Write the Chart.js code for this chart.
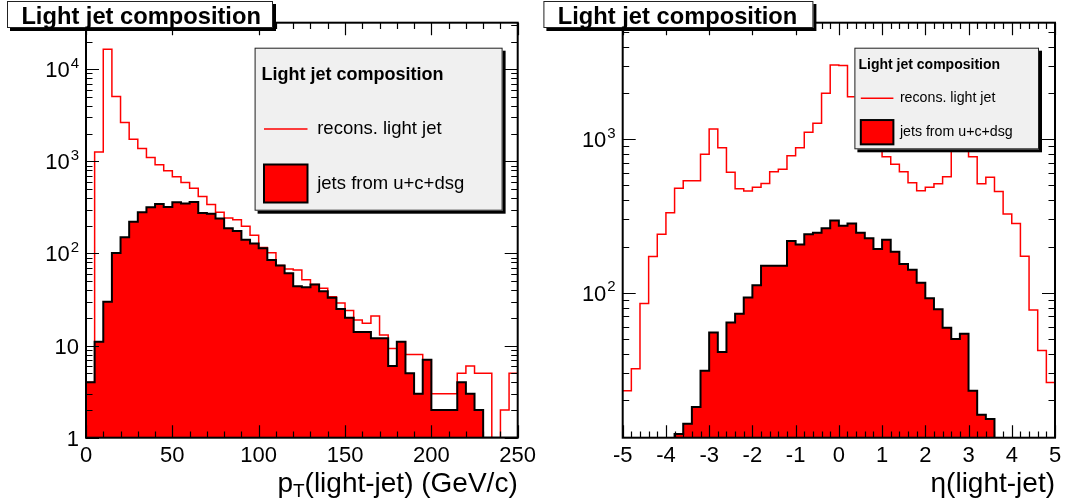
<!DOCTYPE html>
<html>
<head>
<meta charset="utf-8">
<script src="https://cdn.jsdelivr.net/npm/chart.js@4.4.0/dist/chart.umd.min.js"></script>
<style>
  html, body { margin: 0; padding: 0; background: #fff; }
  #wrap { position: relative; width: 1066px; height: 501px; overflow: hidden; }
  canvas { position: absolute; top: 0; }
  #ptChart { left: 0; }
  #etaChart { left: 533px; }
</style>
</head>
<body>
<div id="wrap">
  <canvas id="ptChart" width="545" height="501"></canvas>
  <canvas id="etaChart" width="533" height="501"></canvas>
</div>
<script>
// left pad: pT of light jets, 5 GeV bins (low edges)
const ptBins = [0, 5, 10, 15, 20, 25, 30, 35, 40, 45, 50, 55, 60, 65, 70, 75, 80, 85, 90, 95,
  100, 105, 110, 115, 120, 125, 130, 135, 140, 145, 150, 155, 160, 165, 170, 175, 180, 185, 190, 195,
  200, 205, 210, 215, 220, 225, 230, 235, 240, 245];
const ptRecons = [4, 1260, 16500, 5060, 2640, 1740, 1380, 1100, 918, 790,
  681, 591, 510, 415, 340, 280, 242, 232, 198, 158,
  116, 102, 74, 68, 66, 52, 46, 42, 34, 29,
  24, 19, 17.5, 21, 13, 9.3, 11, 8, 8, 7,
  3, 3, 3, 5, 6, 5, 5, 0, 2, 5];
const ptLight = [4, 11, 30, 101, 150, 221, 280, 317, 345, 320,
  359, 348, 362, 275, 270, 240, 188, 175, 141, 128,
  114, 85, 74, 61, 44, 43, 46, 39, 33, 25,
  20, 14, 14, 12, 12, 6, 11, 5, 3, 7,
  2, 2, 2, 4, 3, 2, 0, 0, 0, 0];
const ptXTicks = [0, 50, 100, 150, 200, 250];
const ptYTickValues = [1, 10, 100, 1000, 10000];
const ptYTickLabels = ['1', '10', '10^2', '10^3', '10^4'];

// right pad: eta of light jets, 0.2 bins (low edges)
const etaBins = [-5, -4.8, -4.6, -4.4, -4.2, -4, -3.8, -3.6, -3.4, -3.2, -3, -2.8, -2.6, -2.4, -2.2,
  -2, -1.8, -1.6, -1.4, -1.2, -1, -0.8, -0.6, -0.4, -0.2, 0, 0.2, 0.4, 0.6, 0.8,
  1, 1.2, 1.4, 1.6, 1.8, 2, 2.2, 2.4, 2.6, 2.8, 3, 3.2, 3.4, 3.6, 3.8, 4, 4.2, 4.4, 4.6, 4.8];
const etaRecons = [23, 32, 85, 172, 240, 332, 479, 537, 537, 798,
  1167, 882, 609, 475, 460, 486, 514, 615, 637, 782,
  882, 1111, 1271, 1995, 3050, 3020, 1890, 1600, 1250, 1000,
  770, 687, 615, 521, 462, 486, 512, 570, 950, 1150,
  770, 512, 565, 456, 326, 283, 173, 77, 42, 26];
const etaLight = [2, 3, 4, 6, 8, 10, 12, 14, 18, 31,
  55, 41, 64, 73, 93, 112, 150, 150, 150, 217,
  206, 240, 246, 263, 295, 273, 283, 246, 226, 193,
  221, 185, 154, 141, 116, 92, 78, 59, 50, 54,
  23, 16, 15, 9, 6, 4, 3, 2, 1, 1];
const etaXTicks = [-5, -4, -3, -2, -1, 0, 1, 2, 3, 4, 5];
const etaYTickValues = [100, 1000];
const etaYTickLabels = ['10^2', '10^3'];

const FONT = '"Liberation Sans", Arial, Helvetica, sans-serif';
const RED = '#ff0000';

// step histogram points: one per bin low edge plus the closing edge
function histPoints(lows, values, hi, floor) {
  const pts = lows.map((x, i) => ({ x: x, y: values[i] > 0 ? values[i] : floor }));
  pts.push({ x: hi, y: pts[pts.length - 1].y });
  return pts;
}

function pave(ctx, x, y, w, h, fill, shadow) {
  ctx.fillStyle = '#000';
  ctx.fillRect(x + shadow, y + shadow, w, h);
  ctx.fillStyle = fill;
  ctx.fillRect(x, y, w, h);
  ctx.strokeStyle = '#222';
  ctx.lineWidth = 1;
  ctx.strokeRect(x + 0.5, y + 0.5, w - 1, h - 1);
}

function drawPowLabel(ctx, label, right, y) {
  const parts = label.split('^');
  ctx.textAlign = 'left';
  ctx.textBaseline = 'alphabetic';
  ctx.font = '22px ' + FONT;
  const baseW = ctx.measureText(parts[0]).width;
  let supW = 0;
  if (parts[1]) {
    ctx.font = '15px ' + FONT;
    supW = ctx.measureText(parts[1]).width + 1;
  }
  const x0 = right - baseW - supW;
  ctx.font = '22px ' + FONT;
  ctx.fillText(parts[0], x0, y + 8);
  if (parts[1]) {
    ctx.font = '15px ' + FONT;
    ctx.fillText(parts[1], x0 + baseW + 1, y - 1.5);
  }
}

function rootPad(spec) {
  return {
    id: 'rootPad',
    afterDraw(chart) {
      const ctx = chart.ctx;
      const xs = chart.scales.x, ys = chart.scales.y;
      const a = chart.chartArea;
      ctx.save();

      // frame
      ctx.strokeStyle = '#000';
      ctx.lineWidth = 2;
      ctx.strokeRect(a.left, a.top, a.right - a.left, a.bottom - a.top);

      // x ticks, inside, bottom and top
      ctx.lineWidth = 1.2;
      ctx.beginPath();
      for (let i = spec.xMinor[0]; i <= spec.xMinor[1]; i++) {
        const v = i * spec.xMinor[2];
        const px = Math.round(xs.getPixelForValue(v)) + 0.5;
        const len = i % spec.xMinor[3] === 0 ? 12.5 : 6.2;
        ctx.moveTo(px, a.bottom); ctx.lineTo(px, a.bottom - len);
        ctx.moveTo(px, a.top); ctx.lineTo(px, a.top + len);
      }
      // log y ticks, inside, left and right
      const d0 = Math.floor(Math.log10(ys.min)), d1 = Math.ceil(Math.log10(ys.max));
      for (let d = d0; d <= d1; d++) {
        for (let m = 1; m <= 9; m++) {
          const v = m * Math.pow(10, d);
          if (v < ys.min * 0.999 || v > ys.max) continue;
          const py = Math.round(ys.getPixelForValue(v)) + 0.5;
          const len = m === 1 ? 13 : 6.5;
          ctx.moveTo(a.left, py); ctx.lineTo(a.left + len, py);
          ctx.moveTo(a.right, py); ctx.lineTo(a.right - len, py);
        }
      }
      ctx.stroke();

      // tick labels
      ctx.fillStyle = '#000';
      ctx.font = '22px ' + FONT;
      ctx.textAlign = 'center';
      ctx.textBaseline = 'alphabetic';
      spec.xTicks.forEach(v => ctx.fillText(String(v), xs.getPixelForValue(v), 461.5));
      spec.yTickValues.forEach((v, i) => drawPowLabel(ctx, spec.yTickLabels[i], a.left - 7, ys.getPixelForValue(v)));

      // x axis title, right aligned with optional subscript
      ctx.textAlign = 'left';
      let w = 0;
      spec.xTitle.forEach(p => {
        ctx.font = (p.sub ? '19px ' : '28px ') + FONT;
        w += ctx.measureText(p.t).width;
      });
      let tx = a.right - w;
      spec.xTitle.forEach(p => {
        ctx.font = (p.sub ? '19px ' : '28px ') + FONT;
        ctx.fillText(p.t, tx, p.sub ? 497 : 491.5);
        tx += ctx.measureText(p.t).width;
      });

      // legend
      const L = spec.legend;
      pave(ctx, L.x, L.y, L.w, L.h, '#f0f0f0', 3);
      ctx.fillStyle = '#000';
      ctx.textBaseline = 'middle';
      ctx.font = 'bold ' + L.titleSize + 'px ' + FONT;
      ctx.fillText('Light jet composition', L.titleX, L.titleY);
      ctx.font = L.textSize + 'px ' + FONT;
      ctx.strokeStyle = RED;
      ctx.lineWidth = 1.5;
      ctx.beginPath();
      ctx.moveTo(L.symX, L.row1); ctx.lineTo(L.symX + L.symW, L.row1);
      ctx.stroke();
      ctx.fillText(spec.names[1], L.textX, L.row1);
      ctx.fillStyle = RED;
      ctx.fillRect(L.symX, L.row2 - L.symH / 2, L.symW, L.symH);
      ctx.strokeStyle = '#000';
      ctx.lineWidth = 2;
      ctx.strokeRect(L.symX, L.row2 - L.symH / 2, L.symW, L.symH);
      ctx.fillStyle = '#000';
      ctx.fillText(spec.names[0], L.textX, L.row2);

      // pad title box
      const T = spec.titleBox;
      pave(ctx, T.x, 1, T.w, 27, '#fff', 3);
      ctx.fillStyle = '#000';
      ctx.textBaseline = 'alphabetic';
      ctx.font = 'bold 23.7px ' + FONT;
      ctx.fillText('Light jet composition', T.x + 14.4, 24);

      ctx.restore();
    }
  };
}

function makePad(id, spec) {
  return new Chart(document.getElementById(id), {
    type: 'line',
    data: {
      datasets: [
        {
          label: spec.names[0],
          data: histPoints(spec.bins, spec.light, spec.xMax, spec.yMin),
          stepped: 'before',
          borderColor: '#000',
          borderWidth: 2,
          backgroundColor: RED,
          fill: 'start',
          pointRadius: 0
        },
        {
          label: spec.names[1],
          data: histPoints(spec.bins, spec.recons, spec.xMax, spec.yMin),
          stepped: 'before',
          borderColor: RED,
          borderWidth: 1.5,
          fill: false,
          pointRadius: 0
        }
      ]
    },
    options: {
      responsive: false,
      animation: false,
      events: [],
      layout: { padding: spec.padding },
      plugins: { legend: { display: false }, tooltip: { enabled: false } },
      scales: {
        x: { type: 'linear', min: spec.xMin, max: spec.xMax, display: false },
        y: { type: 'logarithmic', min: spec.yMin, max: spec.yMax, display: false }
      }
    },
    plugins: [rootPad(spec)]
  });
}

makePad('ptChart', {
  bins: ptBins, recons: ptRecons, light: ptLight,
  names: ['jets from u+c+dsg', 'recons. light jet'],
  xMin: 0, xMax: 250, yMin: 1, yMax: 32000,
  padding: { left: 86, right: 27.3, top: 22.7, bottom: 63.3 },
  xMinor: [0, 25, 10, 5],
  xTicks: ptXTicks, yTickValues: ptYTickValues, yTickLabels: ptYTickLabels,
  xTitle: [{ t: 'p' }, { t: 'T', sub: true }, { t: '(light-jet) (GeV/c)' }],
  legend: { x: 254.6, y: 47.7, w: 248, h: 163, titleSize: 18, titleX: 261.4, titleY: 75,
    textSize: 18.5, symX: 264, symW: 43.5, symH: 38, textX: 317.2, row1: 129, row2: 183.5 },
  titleBox: { x: 7, w: 266 }
});

makePad('etaChart', {
  bins: etaBins, recons: etaRecons, light: etaLight,
  names: ['jets from u+c+dsg', 'recons. light jet'],
  xMin: -5, xMax: 5, yMin: 11.35, yMax: 5750,
  padding: { left: 89.7, right: 11, top: 22.7, bottom: 63.3 },
  xMinor: [-25, 25, 0.2, 5],
  xTicks: etaXTicks, yTickValues: etaYTickValues, yTickLabels: etaYTickLabels,
  xTitle: [{ t: '\u03b7(light-jet)' }],
  legend: { x: 321.4, y: 47.7, w: 184.6, h: 101.6, titleSize: 14, titleX: 325.5, titleY: 65.5,
    textSize: 14.2, symX: 327.8, symW: 32.6, symH: 24.3, textX: 366.9, row1: 98.3, row2: 132.2 },
  titleBox: { x: 10.4, w: 270 }
});
</script>
</body>
</html>
